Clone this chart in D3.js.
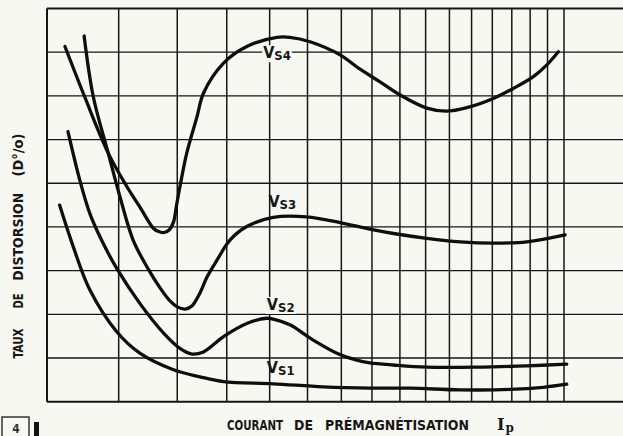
<!DOCTYPE html>
<html>
<head>
<meta charset="utf-8">
<script src="https://cdn.jsdelivr.net/npm/d3@7"></script>
<style>
  html, body { margin: 0; padding: 0; background: #f8f8f3; }
  svg { display: block; }
</style>
</head>
<body>
<svg id="chart" width="623" height="436"></svg>
<script>
// Pre-magnetisation current Ip: logarithmic grid lines
const ipGrid = [4, 5, 6, 7, 8, 9, 10, 11, 12, 13, 14, 15, 16, 17, 18, 19, 20];
// Distortion rate: evenly spaced grid lines
const distGrid = [0, 1, 2, 3, 4, 5, 6, 7, 8, 9];

// Distortion curves [Ip, D] for signal levels Vs1 .. Vs4
const vs1 = [[4.16,4.50],[4.34,3.55],[4.57,2.56],[4.97,1.60],[5.34,1.11],[5.93,0.73],
  [6.44,0.57],[6.93,0.46],[8.09,0.41],[9.45,0.34],[10.93,0.31],[12.39,0.31],[14.47,0.27],
  [16.91,0.28],[18.76,0.33],[20.17,0.40]];
const vs2 = [[4.27,6.18],[4.43,5.07],[4.57,4.31],[4.74,3.70],[4.97,3.05],[5.34,2.25],[5.75,1.57],
  [6.05,1.22],[6.28,1.09],[6.51,1.14],[6.93,1.49],[7.45,1.79],[7.93,1.91],[8.09,1.89],[8.52,1.76],
  [9.16,1.41],[9.86,1.11],[10.49,0.95],[10.93,0.89],[11.76,0.84],[13.05,0.79],[15.24,0.79],
  [17.81,0.82],[20.17,0.86]];
const vs3 = [[4.49,8.37],[4.62,6.98],[4.84,5.69],[5.02,4.69],[5.23,3.70],[5.48,3.04],[5.69,2.60],
  [5.87,2.30],[6.00,2.17],[6.15,2.12],[6.28,2.19],[6.44,2.49],[6.58,2.85],[6.79,3.24],[7.07,3.70],
  [7.45,4.01],[8.09,4.22],[8.98,4.23],[9.96,4.10],[10.93,3.95],[11.76,3.85],[13.05,3.74],
  [14.47,3.66],[16.05,3.63],[17.81,3.66],[20.07,3.82]];
const vs4 = [[4.23,8.13],[4.50,6.97],[4.84,5.69],[5.13,4.92],[5.34,4.46],[5.57,3.97],[5.65,3.90],
  [5.75,3.87],[5.85,3.93],[5.93,4.11],[5.99,4.52],[6.05,4.92],[6.18,5.69],[6.38,6.52],[6.51,7.06],
  [6.93,7.75],[7.45,8.13],[8.18,8.34],[8.52,8.34],[9.07,8.24],[9.96,7.94],[10.60,7.61],[11.28,7.32],
  [12.01,7.02],[13.05,6.72],[13.88,6.65],[14.78,6.73],[16.05,6.94],[17.08,7.17],[18.18,7.44],
  [18.96,7.71],[19.65,8.01]];

const seriesNames = ["S1", "S2", "S3", "S4"];
const seriesData = [vs1, vs2, vs3, vs4];
// Where each curve's name is written [Ip, D]
const labelAnchors = [[7.93, 0.66], [7.93, 2.10], [7.97, 4.46], [7.84, 7.86]];

const W = 623, H = 436;
const paper = "#f8f8f3", ink = "#161616";
const svg = d3.select("#chart");

const x = d3.scaleLog().domain([4, 20]).range([47, 564]);
const y = d3.scaleLinear().domain([0, 9]).range([401.7, 8.5]);
const gridRight = W;

svg.append("rect").attr("width", W).attr("height", H).attr("fill", paper);

const grid = svg.append("g").attr("stroke", ink).attr("fill", "none");

// horizontal lines run across the whole sheet
grid.selectAll("line.h").data(distGrid).join("line")
  .attr("class", "h")
  .attr("x1", x(4)).attr("x2", gridRight)
  .attr("y1", d => y(d)).attr("y2", d => y(d))
  .attr("stroke-width", d => (d === 0 || d === 9) ? 2 : 1.3);

grid.selectAll("line.v").data(ipGrid).join("line")
  .attr("class", "v")
  .attr("x1", d => x(d)).attr("x2", d => x(d))
  .attr("y1", y(9)).attr("y2", y(0))
  .attr("stroke-width", d => d === 4 ? 2 : 1.5);

// curves
const line = d3.line()
  .x(d => x(d[0]))
  .y(d => y(d[1]))
  .curve(d3.curveCatmullRom.alpha(0.5));

// curve names: "V" with the level as a smaller index
const labels = svg.append("g")
  .attr("font-family", "'DejaVu Sans Condensed', 'DejaVu Sans', sans-serif")
  .attr("font-weight", "bold")
  .attr("fill", ink);

const labelNodes = seriesNames.map((name, i) => {
  const [lx, ly] = labelAnchors[i];
  const t = labels.append("text")
    .attr("x", x(lx)).attr("y", y(ly));
  t.append("tspan").attr("font-size", 16).text("V");
  t.append("tspan").attr("font-size", 13).attr("dy", 2).text(name);
  return t;
});

// paper-coloured patch where a name sits on a grid line
labelNodes.forEach((t, i) => {
  if (i === 1 || i === 3) {
    const b = t.node().getBBox();
    svg.insert("rect", "g:last-of-type")
      .attr("x", b.x - 1).attr("y", b.y + 2)
      .attr("width", b.width + 2).attr("height", b.height - 3)
      .attr("fill", paper);
  }
});

svg.append("g")
  .attr("fill", "none")
  .attr("stroke", "#0e0e0e")
  .attr("stroke-width", 3.3)
  .attr("stroke-linecap", "round")
  .attr("stroke-linejoin", "round")
  .selectAll("path").data(seriesData).join("path")
  .attr("d", line);

labels.raise();

// axis titles
const titleFont = "'DejaVu Sans Condensed', 'DejaVu Sans', sans-serif";
const yWords = [["TAUX", 343.5, 30], ["DE", 301, 15], ["DISTORSION", 236.7, 88], ["(D°/o)", 155, 43]];
yWords.forEach(([w, cy, len]) => {
  svg.append("text")
    .attr("transform", `translate(22.5,${cy}) rotate(-90)`)
    .attr("text-anchor", "middle")
    .attr("font-family", titleFont)
    .attr("font-weight", "bold")
    .attr("font-size", 14)
    .attr("fill", ink)
    .attr("textLength", len)
    .attr("lengthAdjust", "spacingAndGlyphs")
    .text(w);
});

const xWords = [["COURANT", 227, 56], ["DE", 294, 19], ["PRÉMAGNÉTISATION", 325, 144]];
xWords.forEach(([w, lx, len]) => {
  svg.append("text")
    .attr("x", lx).attr("y", 430)
    .attr("font-family", titleFont)
    .attr("font-weight", "bold")
    .attr("font-size", 14)
    .attr("fill", ink)
    .attr("textLength", len)
    .attr("lengthAdjust", "spacingAndGlyphs")
    .text(w);
});
const ip = svg.append("text")
  .attr("x", 497).attr("y", 430)
  .attr("font-family", "'DejaVu Serif', serif")
  .attr("font-weight", "bold")
  .attr("fill", ink);
ip.append("tspan").attr("font-size", 16).text("I");
ip.append("tspan").attr("font-size", 12).attr("dy", 2).attr("dx", 1).text("p");

// figure number tab
svg.append("rect").attr("x", 2).attr("y", 417).attr("width", 27).attr("height", 26)
  .attr("fill", "none").attr("stroke", "#333").attr("stroke-width", 1.5);
svg.append("text").attr("x", 16).attr("y", 433).attr("text-anchor", "middle")
  .attr("font-family", titleFont).attr("font-weight", "bold").attr("font-size", 12)
  .attr("fill", "#333").text("4");
svg.append("rect").attr("x", 34).attr("y", 422).attr("width", 5).attr("height", 14).attr("fill", "#111");
</script>
</body>
</html>
